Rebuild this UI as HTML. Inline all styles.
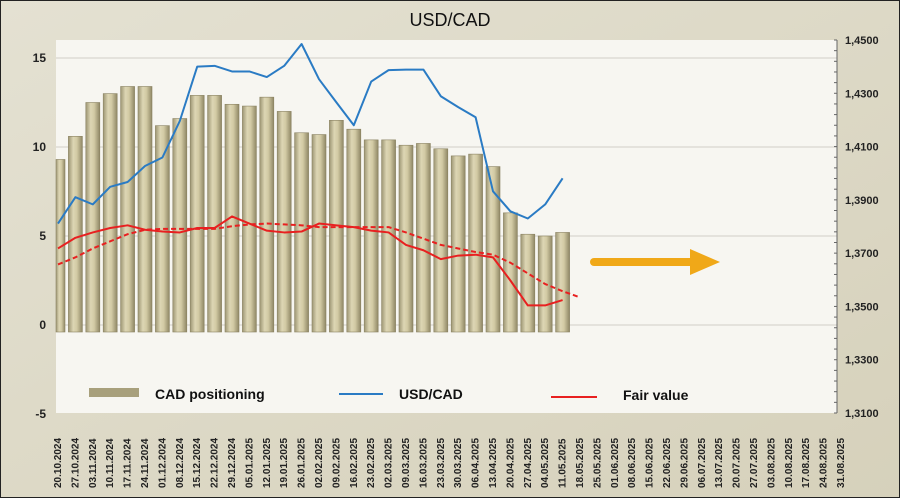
<!DOCTYPE html>
<html><head><meta charset="utf-8"><style>
body{margin:0;width:900px;height:498px;overflow:hidden;font-family:"Liberation Sans",sans-serif}
</style></head><body>
<svg id="chart" width="900" height="498" xmlns="http://www.w3.org/2000/svg">
<defs>
<linearGradient id="bg" x1="0" y1="0" x2="1" y2="1"><stop offset="0" stop-color="#e4e1d2"/><stop offset="1" stop-color="#d6d1bb"/></linearGradient>
<linearGradient id="bar" x1="0" y1="0" x2="1" y2="0"><stop offset="0" stop-color="#9d9674"/><stop offset="0.35" stop-color="#ddd6b4"/><stop offset="0.6" stop-color="#d2caa4"/><stop offset="1" stop-color="#8f8765"/></linearGradient>
</defs>
<rect x="0" y="0" width="900" height="498" fill="url(#bg)" stroke="#222" stroke-width="2"/>
<rect x="56" y="40" width="781" height="373" fill="#f7f6f1"/>
<text x="450" y="26" text-anchor="middle" font-size="18" fill="#111">USD/CAD</text>
<g id="grid"></g><g id="bars"></g><g id="lines"></g><g id="axes"></g>
<g>
<line x1="594" y1="262" x2="690" y2="262" stroke="#f0a818" stroke-width="8" stroke-linecap="round"/>
<polygon points="690,249 720,262 690,275" fill="#f0a818"/>
</g>
<g>
<rect x="89" y="388" width="50" height="9" fill="#a8a07c"/>
<text x="155" y="399" font-size="14" font-weight="bold" fill="#111">CAD positioning</text>
<line x1="339" y1="394" x2="383" y2="394" stroke="#2a7bc4" stroke-width="2"/>
<text x="399" y="399" font-size="14" font-weight="bold" fill="#111">USD/CAD</text>
<line x1="551" y1="397" x2="597" y2="397" stroke="#e82020" stroke-width="2"/>
<text x="623" y="400" font-size="14" font-weight="bold" fill="#111">Fair value</text>
</g>
</svg>
<script>
const dates=["20.10.2024","27.10.2024","03.11.2024","10.11.2024","17.11.2024","24.11.2024","01.12.2024","08.12.2024","15.12.2024","22.12.2024","29.12.2024","05.01.2025","12.01.2025","19.01.2025","26.01.2025","02.02.2025","09.02.2025","16.02.2025","23.02.2025","02.03.2025","09.03.2025","16.03.2025","23.03.2025","30.03.2025","06.04.2025","13.04.2025","20.04.2025","27.04.2025","04.05.2025","11.05.2025","18.05.2025","25.05.2025","01.06.2025","08.06.2025","15.06.2025","22.06.2025","29.06.2025","06.07.2025","13.07.2025","20.07.2025","27.07.2025","03.08.2025","10.08.2025","17.08.2025","24.08.2025","31.08.2025"];
const positioning=[9.3,10.6,12.5,13.0,13.4,13.4,11.2,11.6,12.9,12.9,12.4,12.3,12.8,12.0,10.8,10.7,11.5,11.0,10.4,10.4,10.1,10.2,9.9,9.5,9.6,8.9,6.3,5.1,5.0,5.2];
const usdcad=[1.3811,1.3910,1.3883,1.3949,1.3967,1.4027,1.4059,1.4196,1.4400,1.4403,1.4382,1.4382,1.4361,1.4403,1.4485,1.4353,1.4266,1.4180,1.4344,1.4387,1.4389,1.4389,1.4289,1.4248,1.4210,1.3932,1.3857,1.3830,1.3883,1.3981];
const fairValue=[4.3,4.9,5.2,5.45,5.6,5.35,5.25,5.2,5.45,5.45,6.1,5.7,5.3,5.2,5.25,5.7,5.6,5.5,5.3,5.2,4.5,4.2,3.7,3.9,3.95,3.8,2.5,1.1,1.1,1.4];
const fairTrend=[3.4,3.8,4.3,4.7,5.1,5.35,5.4,5.4,5.4,5.4,5.55,5.65,5.7,5.65,5.6,5.5,5.5,5.5,5.5,5.5,5.2,4.85,4.5,4.3,4.1,3.95,3.5,2.9,2.3,1.9,1.55];
const leftTicks=[15,10,5,0,-5];
const rightTicks=[1.45,1.43,1.41,1.39,1.37,1.35,1.33,1.31];
const NS="http://www.w3.org/2000/svg";
const X=i=>58+i*17.4;
const YL=v=>325-v*17.8;
const YR=v=>413-(v-1.31)/0.14*373;
function mk(tag,attrs,parent){const e=document.createElementNS(NS,tag);for(const k in attrs)e.setAttribute(k,attrs[k]);parent.appendChild(e);return e;}
const grid=document.getElementById('grid'),bars=document.getElementById('bars'),lines=document.getElementById('lines'),axes=document.getElementById('axes');
leftTicks.forEach(t=>{
 if(t>-5){const g=mk('line',{x1:56,x2:837,y1:YL(t),y2:YL(t),stroke:'#d0cec6','stroke-width':1},grid);
 
 }
 const l=mk('text',{x:46,y:YL(t)+4,'text-anchor':'end','font-size':12,'font-weight':'bold',fill:'#222'},axes);
 l.textContent=t;
 
 
});
rightTicks.forEach(t=>{
 const l=mk('text',{x:845,y:YR(t)+4,'font-size':11,'font-weight':'bold',fill:'#222'},axes);
 l.textContent=t.toFixed(4).replace('.',',');
 
 
});
const ax=mk('line',{x1:837,x2:837,y1:40,y2:413,stroke:'#666','stroke-width':1},axes);


for(let k=0;k<=35;k++){const y=40+k*373/35;const tk=mk('line',{x1:834,x2:837,y1:y,y2:y,stroke:'#666'},axes);

}
positioning.forEach((v,i)=>{
 const x0=Math.max(56,X(i)-7);const w=X(i)+7-x0;
 const r=mk('rect',{x:x0,y:YL(v),width:w,height:YL(0)-YL(v)+7,fill:'url(#bar)',stroke:'#8a8262','stroke-width':0.6},bars);
 
 
});
function line(arr,yf,color,dash,name){
 const p=mk('polyline',{points:arr.map((v,i)=>X(i)+','+yf(v)).join(' '),fill:'none',stroke:color,'stroke-width':2,'stroke-dasharray':dash||'none','stroke-linejoin':'round'},lines);
 
 
}
line(fairTrend,YL,'#e82020','5,3','fair-value-trend-line');
line(fairValue,YL,'#e82020',null,'fair-value-line');
line(usdcad,YR,'#2a7bc4',null,'usdcad-line');
dates.forEach((d,i)=>{
 const t=mk('text',{x:0,y:0,transform:`translate(${X(i)-1+4},488) rotate(-90)`,'font-size':10,'font-weight':'bold',fill:'#222'},axes);
 t.textContent=d;
 
 
});
</script>
</body></html>
